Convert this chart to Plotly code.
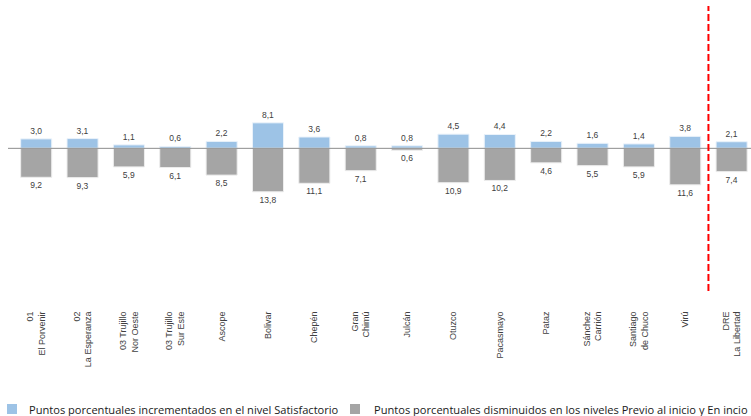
import plotly.graph_objects as go

# Provincias (UGEL) y resultado regional
categorias = [
    "01<br>El Porvenir", "02<br>La Esperanza", "03 Trujillo<br>Nor Oeste",
    "03 Trujillo<br>Sur Este", "Ascope", "Bolivar", "Chepén", "Gran<br>Chimú",
    "Julcán", "Otuzco", "Pacasmayo", "Pataz", "Sánchez<br>Carrión",
    "Santiago<br>de Chuco", "Virú", "DRE<br>La Libertad",
]
# Puntos porcentuales incrementados en el nivel Satisfactorio
incremento = [3.0, 3.1, 1.1, 0.6, 2.2, 8.1, 3.6, 0.8, 0.8, 4.5, 4.4, 2.2, 1.6, 1.4, 3.8, 2.1]
# Puntos porcentuales disminuidos en Previo al inicio y En inicio
disminucion = [9.2, 9.3, 5.9, 6.1, 8.5, 13.8, 11.1, 7.1, 0.6, 10.9, 10.2, 4.6, 5.5, 5.9, 11.6, 7.4]

nombre_inc = "Puntos porcentuales incrementados en el nivel Satisfactorio"
nombre_dis = "Puntos porcentuales disminuidos en los niveles Previo al inicio y En incio"

AZUL = "#9DC3E6"
GRIS = "#A5A5A5"
TEXTO = "#404040"

W, H = 751, 416
M_L, M_R, M_T, M_B = 8, 0, 6, 125
PLOT_W = W - M_L - M_R
PLOT_H = H - M_T - M_B


def fmt(v):
    return f"{v:.1f}".replace(".", ",")


def px_x(p):
    """Pixel column -> paper x."""
    return (p - M_L) / PLOT_W


def px_y(p):
    """Pixel row -> paper y."""
    return (H - M_B - p) / PLOT_H


x = list(range(len(categorias)))

fig = go.Figure()
fig.add_trace(go.Bar(
    x=x, y=incremento, name=nombre_inc,
    marker=dict(color=AZUL, line=dict(color="#EAF2FA", width=1)),
    width=0.67,
    text=[fmt(v) for v in incremento], textposition="outside",
    textfont=dict(family="Liberation Sans, Arial", size=8.5, color=TEXTO),
    cliponaxis=False,
))
fig.add_trace(go.Bar(
    x=x, y=[-v for v in disminucion], name=nombre_dis,
    marker=dict(color=GRIS, line=dict(color="#EDEDED", width=1)),
    width=0.67,
    text=[fmt(v) for v in disminucion], textposition="outside",
    textfont=dict(family="Liberation Sans, Arial", size=8.5, color=TEXTO),
    cliponaxis=False,
))

# línea de base y separador del total regional
fig.add_shape(type="line", xref="paper", yref="y", x0=0, x1=1, y0=0, y1=0,
              line=dict(color="#8C8C8C", width=1), layer="above")
fig.add_shape(type="line", xref="x", yref="paper", x0=14.5, x1=14.5, y0=0, y1=1,
              line=dict(color="#FF0000", width=2, dash="7px,3px"), layer="above")

# leyenda inferior: cuadro de color + texto de cada serie
leyenda = [(nombre_inc, AZUL, 7, 27), (nombre_dis, GRIS, 350, 372)]
for nombre, color, x_cuadro, x_texto in leyenda:
    fig.add_shape(type="rect", xref="paper", yref="paper",
                  x0=px_x(x_cuadro), x1=px_x(x_cuadro + 10),
                  y0=px_y(414), y1=px_y(404),
                  fillcolor=color, line=dict(width=0))
    fig.add_annotation(xref="paper", yref="paper", x=px_x(x_texto), y=px_y(409),
                       xanchor="left", yanchor="middle", showarrow=False,
                       text=nombre,
                       font=dict(family="Open Sans", size=11.1, color="#1A1A1A"))

fig.update_layout(
    width=W, height=H,
    margin=dict(l=M_L, r=M_R, t=M_T, b=M_B),
    paper_bgcolor="white", plot_bgcolor="white",
    barmode="overlay",
    showlegend=False,
    xaxis=dict(
        range=[-0.608, 15.418],
        tickmode="array", tickvals=x, ticktext=categorias,
        tickangle=-90,
        tickfont=dict(family="Liberation Sans, Arial", size=9, color=TEXTO),
        ticks="outside", ticklen=16, tickcolor="rgba(0,0,0,0)",
        showgrid=False, zeroline=False, showline=False,
    ),
    yaxis=dict(
        range=[-45.3, 45.2],
        showticklabels=False, showgrid=False, zeroline=False, showline=False,
    ),
)

fig.write_html("out.html")
